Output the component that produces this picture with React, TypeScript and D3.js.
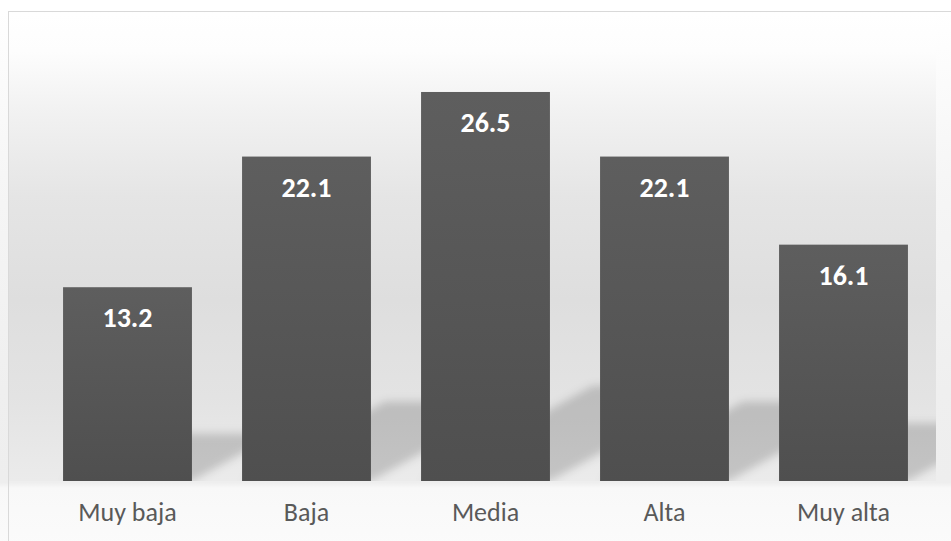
import React from "react";
import * as d3 from "d3";

const categories = ["Muy baja", "Baja", "Media", "Alta", "Muy alta"];
const values = [13.2, 22.1, 26.5, 22.1, 16.1];
const yDomain = [0, 30];

const W = 951;
const H = 541;

export default function App() {
  const x = d3.scaleBand<string>().domain(categories).range([38, 933]).paddingInner(0.28).paddingOuter(0.14);
  const y = d3.scaleLinear().domain(yDomain).range([481, 40.6]);
  const bw = x.bandwidth();
  const yb = y(0);
  const plotRight = 936;

  return (
    <svg
      width={W}
      height={H}
      style={{ position: "absolute", left: 0, top: 0, display: "block" }}
    >
      <defs>
        <linearGradient id="chartBg" x1="0" y1="0" x2="0" y2="1">
          <stop offset="0%" stopColor="#ffffff" />
          <stop offset="30%" stopColor="#f6f6f6" />
          <stop offset="70%" stopColor="#efefef" />
          <stop offset="87%" stopColor="#eeeeee" />
          <stop offset="88%" stopColor="#f8f8f8" />
          <stop offset="100%" stopColor="#fbfbfb" />
        </linearGradient>
        <linearGradient id="plotBg" x1="0" y1="0" x2="0" y2="1">
          <stop offset="0%" stopColor="#ffffff" />
          <stop offset="8%" stopColor="#fdfdfd" />
          <stop offset="20%" stopColor="#f2f2f2" />
          <stop offset="39%" stopColor="#e5e5e5" />
          <stop offset="61%" stopColor="#dedede" />
          <stop offset="82%" stopColor="#e3e3e3" />
          <stop offset="100%" stopColor="#ebebeb" />
        </linearGradient>
        <linearGradient id="barFill" x1="0" y1="0" x2="0" y2="1">
          <stop offset="0%" stopColor="#5e5e5e" />
          <stop offset="100%" stopColor="#4f4f4f" />
        </linearGradient>
        <filter id="blur" x="-20%" y="-30%" width="140%" height="160%">
          <feGaussianBlur stdDeviation="4" />
        </filter>
        <clipPath id="plotClip">
          <rect x={9} y={12} width={plotRight - 9} height={yb - 12} />
        </clipPath>
      </defs>

      {/* chart area */}
      <rect x={0} y={12} width={W + 10} height={H} fill="url(#chartBg)" />
      {/* plot area */}
      <rect x={9} y={14} width={plotRight - 9} height={yb - 14} fill="url(#plotBg)" />
      <rect x={8.5} y={11.5} width={W + 10} height={H + 10} fill="none" stroke="#d9d9d9" strokeWidth={1} />

      {/* shadows */}
      <g clipPath="url(#plotClip)">
        {categories.map((c, i) => {
          const x0 = x(c)!;
          const x1 = x0 + bw;
          const h = yb - y(values[i]);
          const hs = 0.245 * h;
          const s = 1.8 * hs;
          const ys = yb - hs;
          const pts = [
            [x0, yb],
            [x1, yb],
            [x1 + s, ys],
            [x0 + s, ys],
          ];
          return (
            <polygon
              key={"s" + c}
              points={pts.map((p) => p.join(",")).join(" ")}
              fill="#000"
              fillOpacity={0.17}
              filter="url(#blur)"
            />
          );
        })}
      </g>

      {/* bars */}
      {categories.map((c, i) => (
        <rect
          key={"b" + c}
          x={x(c)}
          y={y(values[i])}
          width={bw}
          height={yb - y(values[i])}
          fill="url(#barFill)"
        />
      ))}

      {/* value labels */}
      {categories.map((c, i) => (
        <text
          key={"v" + c}
          x={x(c)! + bw / 2}
          y={y(values[i]) + 40}
          textAnchor="middle"
          fill="#ffffff"
          fontFamily="Carlito, Calibri, Lato, sans-serif"
          fontWeight="bold"
          fontSize={28}
        >
          {values[i].toFixed(1)}
        </text>
      ))}

      {/* category labels */}
      {categories.map((c) => (
        <text
          key={"c" + c}
          x={x(c)! + bw / 2}
          y={521}
          textAnchor="middle"
          fill="#595959"
          fontFamily="Carlito, Calibri, Lato, sans-serif"
          fontSize={26}
        >
          {c}
        </text>
      ))}
    </svg>
  );
}
